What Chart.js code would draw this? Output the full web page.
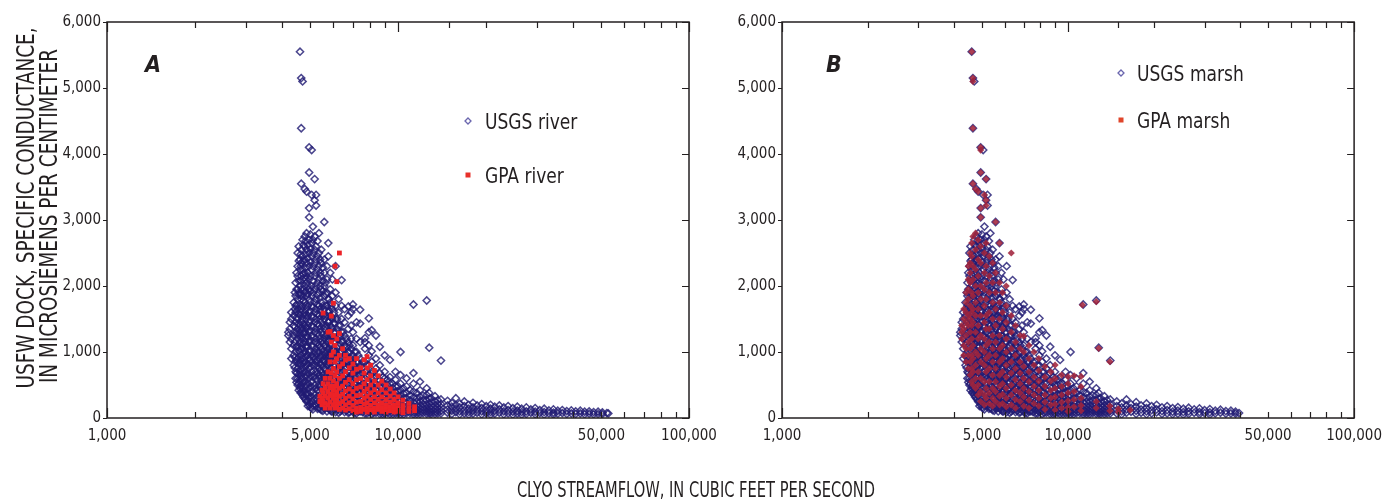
<!DOCTYPE html>
<html><head><meta charset="utf-8">
<script src="https://cdn.jsdelivr.net/npm/chart.js@4.4.1/dist/chart.umd.min.js"></script>
<style>
html,body{margin:0;padding:0;background:#fff;}
#wrap{position:relative;width:1391px;height:499px;overflow:hidden;background:#fff;}
canvas{position:absolute;left:0;top:0;}
</style></head><body>
<div id="wrap"><canvas id="cA" width="1391" height="499"></canvas><canvas id="cB" width="1391" height="499"></canvas></div>
<script>
// ---------- DATA (rows: [streamflow, [specific conductance values ...]]) ----------
const xTickLabels = [1000, 5000, 10000, 50000, 100000];
const xMajorTicks = [1000, 10000, 100000];
const yTicks = [0, 1000, 2000, 3000, 4000, 5000, 6000];

const usgsSharedRows = [
[4200,[1300,1250]],
[4250,[1450,1150,1350]],
[4300,[1600,1500,1200,1050,900]],
[4380,[1750,1550,1400,1250,1100,950,800]],
[4450,[2050,1850,1700,1600,1450,1300,1000,850,700,600]],
[4520,[2500,2300,2150,1950,1800,1650,1500,1350,1200,1100,900,750,600,500]],
[4605,[5550,2400,2250,2000,1900,1700,1550,1400,1300,1150,1000,850,700,550,450]],
[4650,[5150,4390,3550,2550,2350,2150,1950,1800,1650,1450,1250,1100,950,800,650,500,400]],
[4700,[5100,2700,2450,2250,2100,1850,1700,1500,1350,1200,1050,900,750,600,450,350]],
[4780,[3470,2750,2600,2400,2200,2000,1900,1750,1600,1400,1300,1150,1000,850,700,550,400,300]],
[4850,[3430,2800,2550,2350,2150,2050,1850,1650,1500,1350,1250,1100,950,800,650,500,350,250]],
[4950,[4100,3720,3180,3040,2700,2500,2300,2100,1950,1800,1600,1450,1300,1150,1000,900,750,600,450,300,200]],
[5050,[4060,3380,2650,2450,2250,2000,1850,1700,1550,1400,1250,1100,950,850,700,550,400,250,150]],
[5170,[3620,3300,2750,2550,2350,2150,1950,1750,1600,1450,1300,1150,1000,900,800,650,500,350,200]],
[5230,[3380,3220,2600,2400,2200,2000,1800,1650,1500,1350,1200,1050,950,850,700,600,450,300,180]],
[5350,[2800,2500,2300,2100,1900,1700,1550,1400,1250,1100,1000,900,750,650,500,400,250,150]],
[5450,[2550,2350,2150,1950,1750,1600,1450,1300,1150,1050,950,800,700,550,450,300,200,120]],
[5580,[2970,2400,2200,2000,1850,1650,1500,1350,1200,1100,950,850,750,600,500,350,250,150]],
[5700,[2300,2100,1900,1700,1550,1400,1250,1150,1000,900,800,650,550,400,300,200,100]],
[5760,[2650,2450,1800,1600,1450,1300,1200,1050,950,850,700,600,450,350,250,150]],
[5850,[2200,1950,1750,1550,1400,1250,1100,1000,900,750,650,550,400,300,200,120]],
[5950,[2100,1850,1650,1500,1350,1200,1050,950,850,700,600,500,400,280,180,100]],
[6100,[2300,1900,1700,1500,1300,1150,1000,900,800,700,600,480,380,280,180,90]],
[6250,[1800,1600,1400,1250,1100,950,850,750,650,550,450,350,250,150,80]],
[6400,[2090,1700,1500,1300,1150,1000,900,800,700,600,500,400,300,200,120]],
[6550,[1650,1450,1250,1100,950,850,750,650,550,450,350,250,170,90]],
[6750,[1690,1550,1350,1150,1000,850,700,600,500,420,330,240,150,80]],
[6900,[1600,1400,1200,1050,900,780,650,550,460,370,280,200,120]],
[7000,[1720,1650,1300,1100,950,800,680,580,480,400,320,240,160,90]],
[7200,[1450,1200,1000,850,720,620,520,430,350,270,200,130,70]],
[7410,[1640,1430,1150,900,780,650,550,460,380,300,230,160,100]],
[7700,[1210,1150,1050,850,700,600,500,420,340,260,190,120,70]],
[7940,[1510,1300,1100,950,800,650,550,450,370,290,220,150,90]],
[8120,[1330,1010,850,700,600,500,400,320,250,180,110,60]],
[8400,[1250,900,750,620,520,430,350,270,200,140,80]],
[8660,[1080,800,680,570,470,380,300,230,160,100,60]],
[9000,[950,700,600,500,400,320,250,180,120,70]],
[9380,[880,620,520,430,350,280,210,150,100,60]],
[9800,[700,580,480,390,310,240,180,120,70]],
[10200,[1000,650,520,420,340,260,200,140,90,55]],
[10700,[600,480,380,300,230,170,120,75]],
[11300,[1720,680,520,400,310,240,180,130,85,55]],
[11900,[550,420,320,250,190,140,95,60]],
[12550,[1780,450,350,270,200,150,100,65]],
[12800,[1065,380,290,220,160,110,70]],
[13400,[330,250,190,140,95,60]],
[14050,[870,280,210,160,110,70]]
];

const usgsCoreFillRows = [
[4420,[1900,1650,1380,1150,920,760]],
[4480,[2200,1950,1720,1520,1270,1080,880,680,540]],
[4560,[2600,2380,2080,1870,1580,1430,1260,1020,830,660,520,420]],
[4630,[2480,2300,2080,1860,1600,1360,1210,1050,880,730,600,480,380]],
[4730,[2620,2380,2180,1950,1780,1560,1420,1280,1120,980,830,680,530,400,320]],
[4810,[2680,2480,2280,2100,1920,1700,1550,1370,1210,1080,920,780,620,480,360,280]],
[4900,[2620,2420,2200,2000,1880,1700,1550,1400,1220,1080,960,820,680,530,380,260,180]],
[5000,[2780,2560,2360,2150,1920,1760,1620,1480,1330,1180,1020,880,780,640,480,330,220,160]],
[5100,[2900,2700,2500,2300,2080,1900,1680,1520,1380,1220,1080,920,800,620,460,310,190,130]],
[5290,[2680,2450,2250,2050,1860,1720,1580,1430,1290,1140,1000,880,790,680,560,420,330,220,140]],
[5400,[2400,2200,2000,1820,1650,1500,1350,1200,1080,930,830,720,600,470,350,230,140]],
[5520,[2280,2080,1920,1700,1550,1400,1260,1130,1000,880,780,650,540,420,300,190,110]],
[5640,[2050,1880,1700,1540,1380,1240,1100,980,860,740,620,500,380,260,150]],
[5800,[1800,1620,1460,1320,1180,1060,940,830,720,600,480,360,250,140]],
[5900,[1700,1520,1380,1240,1100,980,860,750,640,520,400,290,180,100]],
[6030,[1600,1440,1300,1160,1040,920,810,700,590,480,370,260,150]],
[6180,[1500,1350,1200,1070,950,840,730,630,530,430,330,230,130]],
[6330,[1400,1250,1120,1000,880,780,680,580,480,380,280,180,100]],
[6480,[1300,1160,1040,920,820,720,620,520,420,320,220,130]],
[6650,[1200,1080,960,860,760,660,570,480,390,290,200,110]],
[6820,[1100,990,880,780,690,600,510,420,340,250,160,90]],
[7100,[1000,900,800,700,610,520,440,360,280,200,130,80]],
[7300,[950,840,740,650,560,480,400,320,240,170,100]],
[7550,[850,760,670,590,510,430,360,290,220,150,90]],
[7820,[800,710,620,540,460,390,320,250,180,120,70]],
[8250,[700,610,530,460,390,320,250,190,130,80]],
[8850,[620,540,470,400,330,270,210,150,100,60]],
[9200,[580,500,430,360,300,240,180,130,80]],
[9600,[520,450,380,320,260,200,150,100,60]],
[10000,[480,400,330,270,210,160,110,70]],
[10450,[450,370,300,240,180,130,90,55]],
[11000,[420,340,270,210,160,115,75]],
[11600,[380,300,240,180,135,95,60]],
[12200,[340,270,210,160,115,75]],
[13000,[300,240,180,130,90,60]],
[13700,[270,210,160,110,70]]
];

const riverTailRows = [
[14800,[260,190,130,80]],[15300,[230,170,110,60]],[15800,[300,200,140,90]],[16300,[220,160,100,55]],
[16900,[250,180,120,70]],[17500,[200,140,90,50]],[18100,[230,160,110,65]],[18700,[190,130,80]],
[19400,[210,150,100,55]],[20100,[180,120,70]],[20800,[200,140,90,50]],[21500,[170,110,65]],
[22300,[190,130,80]],[23100,[160,100,55]],[23900,[180,120,70]],[24800,[150,95,50]],
[25700,[170,110,65]],[26600,[140,90,50]],[27600,[160,100,60]],[28600,[130,80]],
[29600,[150,95,55]],[30700,[120,75]],[31800,[140,90,50]],[33000,[115,70]],
[34200,[130,80,50]],[35400,[110,65]],[36700,[120,75]],[38000,[105,60]],
[39400,[115,70]],[40800,[100,60]],[42300,[110,70]],[43800,[95,55]],
[45400,[100,65]],[47000,[90,55]],[48700,[95,60]],[50400,[85,60]],[52200,[75]],[52800,[70]]
];

const marshTailRows = [
[14800,[250,180,120,70]],[15400,[220,160,100,55]],[16000,[280,190,130,80]],[16600,[210,150,95]],
[17300,[240,170,110,60]],[18000,[190,130,80]],[18800,[220,150,100,55]],[19600,[180,120,70]],
[20400,[200,130,85]],[21300,[160,105,60]],[22200,[180,120,70]],[23200,[150,95,55]],
[24200,[165,110,65]],[25300,[140,90,50]],[26400,[155,100,60]],[27600,[130,80]],
[28800,[145,90,55]],[30000,[120,75]],[31300,[135,85,50]],[32700,[110,70]],
[34100,[125,80]],[35600,[105,65]],[37100,[110,70]],[38500,[95,65]],[39600,[75]]
];

const gpaRiverRows = [
[5390,[330,250]],
[5480,[420,300,200]],
[5530,[1590,520,380,260]],
[5620,[600,450,330,220,150]],
[5750,[1300,700,520,400,300,200]],
[5840,[1310,850,600,460,340,240,150]],
[5900,[1545,1150,950,680,480,360]],
[6000,[1740,1250,1000,750,560,420,300,200]],
[6075,[2300,1100,850,640,480,350,240,150]],
[6160,[2065,1200,900,700,520,400,280,180]],
[6290,[2500,1280,950,780,600,450,330,220,130]],
[6450,[1050,820,640,480,360,250,150]],
[6600,[950,880,700,540,410,300,200,120]],
[6800,[900,760,580,440,330,230,140]],
[7000,[820,680,520,400,290,190,110]],
[7200,[900,740,580,450,340,240,150,90]],
[7450,[760,600,470,350,250,160,100]],
[7650,[880,680,520,400,300,210,130]],
[7830,[930,760,580,440,330,230,150,90]],
[8050,[800,640,500,380,280,190,120]],
[8300,[720,560,430,320,230,150,90]],
[8550,[640,500,380,280,200,130]],
[8800,[560,430,320,230,160,100]],
[9100,[500,380,280,200,140,90]],
[9400,[440,330,240,170,110]],
[9700,[380,280,200,140,90]],
[10000,[320,230,160,100]],
[10400,[270,190,130,80]],
[10900,[220,150,100]],
[11400,[170,110]]
];

const gpaMarshRows = [
[4250,[1400,1300,1200]],
[4320,[1650,1500,1350,1100,950]],
[4400,[1900,1750,1600,1450,1250,1050,850]],
[4480,[2300,2100,1950,1800,1550,1400,1150,950,750]],
[4550,[2500,2350,2200,2050,1700,1500,1300,1050,850,650]],
[4605,[5550,2650,2450,1900,1600,1400,1200,950,750,550]],
[4650,[5150,5100,4390,3550,2750,2300,2100,1850,1650,1450,1100,900,700,500]],
[4750,[3470,2800,2550,2250,2000,1750,1550,1300,1000,800,600,450]],
[4850,[3430,2700,2400,2150,1900,1650,1400,1200,950,700,500,350]],
[4950,[4100,4060,3720,3180,3040,2600,2350,2000,1800,1550,1250,1050,850,600,400,250]],
[5100,[3380,2500,2200,1950,1700,1450,1200,1000,800,550,350,200]],
[5170,[3620,3220,3300,2650,2300,2050,1800,1550,1350,1100,900,700,450,300]],
[5300,[2450,2150,1900,1600,1350,1150,950,750,550,380,220]],
[5450,[2350,2050,1750,1500,1250,1050,850,650,450,300,180]],
[5580,[2970,2200,1900,1650,1400,1150,950,750,550,400,250]],
[5760,[2650,2050,1750,1500,1250,1050,850,650,480,330,200]],
[5900,[1900,1600,1350,1100,900,700,520,360,220]],
[6080,[2000,1700,1450,1200,1000,800,620,450,300,170]],
[6330,[2500,1550,1300,1050,850,680,500,350,200]],
[6550,[1400,1150,950,750,580,420,280,150]],
[6800,[1250,1050,850,680,520,380,250]],
[7000,[1240,1000,780,600,450,320,180]],
[7300,[1100,900,700,550,400,270,150]],
[7600,[1000,800,620,480,350,220]],
[7900,[900,720,560,420,300,180]],
[8300,[780,620,480,350,240,130]],
[8700,[700,560,420,300,200]],
[9010,[803,600,450,320,210,120]],
[9500,[650,480,350,240,150]],
[10000,[626,520,380,260,160,100]],
[10500,[640,400,280,170]],
[11100,[630,474,300,190,110]],
[11230,[1712]],
[12550,[1762,250,150]],
[12800,[1056]],
[14000,[853,180,110]],
[15000,[140,90]],
[16500,[120]]
];

const usgsRiverRows = usgsSharedRows.concat(usgsCoreFillRows, riverTailRows);
const usgsMarshRows = usgsSharedRows.concat(usgsCoreFillRows, marshTailRows);

// ---------- RENDERING ----------
const INK = '#231f20';
const FONT = "'Liberation Sans Narrow','DejaVu Sans Condensed','Liberation Sans',sans-serif";
Chart.defaults.font.family = FONT;
Chart.defaults.color = INK;

const toPts = rows => rows.flatMap(([x, ys]) => ys.map(y => ({x, y})));
const near = (v, list) => list.some(L => Math.abs(v - L) <= L * 1e-6);
const fmt = v => String(Math.round(v)).replace(/\B(?=(\d{3})+(?!\d))/g, ',');

const NAVY = 'rgba(34,28,116,0.82)';
const RED = '#ec2227';
const MAROON = 'rgba(160,36,60,0.88)';

const yTitle = ['USFW DOCK, SPECIFIC CONDUCTANCE,', 'IN MICROSIEMENS PER CENTIMETER'];
const xTitle = 'CLYO STREAMFLOW, IN CUBIC FEET PER SECOND';

const decor = {
  id: 'decor',
  afterDatasetsDraw(chart, args, o) {
    const {ctx, chartArea: a, scales: {x, y}} = chart;
    ctx.save();
    ctx.strokeStyle = INK;
    ctx.lineWidth = 1.5;
    ctx.strokeRect(a.left, a.top, a.right - a.left, a.bottom - a.top);
    ctx.lineWidth = 1.2;
    ctx.beginPath();
    x.ticks.forEach(t => {
      const px = Math.round(x.getPixelForValue(t.value)) + 0.5;
      const len = near(t.value, xMajorTicks) ? 10 : 6;
      ctx.moveTo(px, a.bottom); ctx.lineTo(px, a.bottom - len);
      ctx.moveTo(px, a.top); ctx.lineTo(px, a.top + len);
    });
    y.ticks.forEach(t => {
      const py = Math.round(y.getPixelForValue(t.value)) + 0.5;
      ctx.moveTo(a.left - 4, py); ctx.lineTo(a.left, py);
      ctx.moveTo(a.right, py); ctx.lineTo(a.right - 7, py);
    });
    ctx.stroke();

    // panel letter
    ctx.fillStyle = INK;
    ctx.font = `italic bold 23px ${FONT}`;
    ctx.textAlign = 'left';
    ctx.textBaseline = 'alphabetic';
    ctx.fillText(o.letter, o.letterX, o.letterY);

    // legend
    o.legend.forEach(item => {
      const ds = chart.data.datasets[item.ds];
      if (item.kind === 'diamond') {
        ctx.beginPath();
        ctx.moveTo(item.mx, item.y - 3); ctx.lineTo(item.mx + 3, item.y);
        ctx.lineTo(item.mx, item.y + 3); ctx.lineTo(item.mx - 3, item.y); ctx.closePath();
        ctx.strokeStyle = 'rgba(90,85,165,0.9)'; ctx.lineWidth = 1.3; ctx.stroke();
      } else {
        ctx.fillStyle = item.color;
        ctx.fillRect(item.mx - 2.5, item.y - 2.5, 5, 5);
      }
      ctx.fillStyle = INK;
      ctx.save();
      ctx.translate(item.tx, item.y + 8);
      ctx.scale(1, 1.15);
      ctx.font = `19px ${FONT}`;
      ctx.textBaseline = 'alphabetic';
      ctx.fillText(ds.label, 0, 0);
      ctx.restore();
    });

    if (o.titles) {
      ctx.fillStyle = INK;
      ctx.textAlign = 'center';
      ctx.textBaseline = 'alphabetic';
      ctx.font = `20.5px ${FONT}`;
      ctx.save(); ctx.translate(34, 208); ctx.rotate(-Math.PI / 2); ctx.scale(1, 1.22);
      ctx.fillText(yTitle[0], 0, 0); ctx.restore();
      ctx.save(); ctx.translate(57, 216); ctx.rotate(-Math.PI / 2); ctx.scale(1, 1.22);
      ctx.fillText(yTitle[1], 0, 0); ctx.restore();
      ctx.save(); ctx.translate(696, 497); ctx.scale(1, 1.25);
      ctx.font = `16.3px ${FONT}`;
      ctx.fillText(xTitle, 0, 0); ctx.restore();
    }
    ctx.restore();
  }
};

function scalesFor(yWidth) {
  return {
    x: {
      type: 'logarithmic', min: 1000, max: 100000,
      grid: {display: false, drawTicks: false}, border: {display: false},
      ticks: {autoSkip: false, maxRotation: 0, padding: 9, color: INK, font: {size: 15},
        callback: v => near(v, xTickLabels) ? fmt(v) : ''},
      afterFit: s => { s.height = 81; }
    },
    y: {
      min: 0, max: 6000,
      grid: {display: false, drawTicks: false}, border: {display: false},
      ticks: {stepSize: 1000, padding: 6, color: INK, font: {size: 15}, callback: v => fmt(v)},
      afterFit: s => { s.width = yWidth; }
    }
  };
}

const common = {responsive: false, animation: false, devicePixelRatio: 1, events: []};

new Chart(document.getElementById('cA'), {
  type: 'scatter',
  data: {datasets: [
    {label: 'USGS river', data: toPts(usgsRiverRows), order: 1, pointStyle: 'rectRot', pointRadius: 3.6,
     borderColor: NAVY, backgroundColor: 'rgba(0,0,0,0)', borderWidth: 1.5},
    {label: 'GPA river', data: toPts(gpaRiverRows), order: 0, pointStyle: 'rect', pointRadius: 3.4,
     borderColor: RED, backgroundColor: RED, borderWidth: 0}
  ]},
  options: Object.assign({}, common, {
    layout: {padding: {top: 22, right: 702, left: 0, bottom: 0}},
    scales: scalesFor(107),
    plugins: {legend: {display: false}, tooltip: {enabled: false},
      decor: {letter: 'A', letterX: 145, letterY: 72, titles: true,
        legend: [{ds: 0, kind: 'diamond', mx: 468, tx: 485, y: 121},
                 {ds: 1, kind: 'square', color: '#e8302a', mx: 468, tx: 485, y: 175}]}}
  }),
  plugins: [decor]
});

new Chart(document.getElementById('cB'), {
  type: 'scatter',
  data: {datasets: [
    {label: 'USGS marsh', data: toPts(usgsMarshRows), order: 1, pointStyle: 'rectRot', pointRadius: 3.6,
     borderColor: NAVY, backgroundColor: 'rgba(0,0,0,0)', borderWidth: 1.5},
    {label: 'GPA marsh', data: toPts(gpaMarshRows), order: 0, pointStyle: 'rectRot', pointRadius: 3.6,
     borderColor: MAROON, backgroundColor: MAROON, borderWidth: 0}
  ]},
  options: Object.assign({}, common, {
    layout: {padding: {top: 22, right: 27, left: 0, bottom: 0}},
    scales: scalesFor(782),
    plugins: {legend: {display: false}, tooltip: {enabled: false},
      decor: {letter: 'B', letterX: 826, letterY: 72, titles: false,
        legend: [{ds: 0, kind: 'diamond', mx: 1121, tx: 1137, y: 73},
                 {ds: 1, kind: 'square', color: '#e0452a', mx: 1121, tx: 1137, y: 120}]}}
  }),
  plugins: [decor]
});
</script></body></html>
